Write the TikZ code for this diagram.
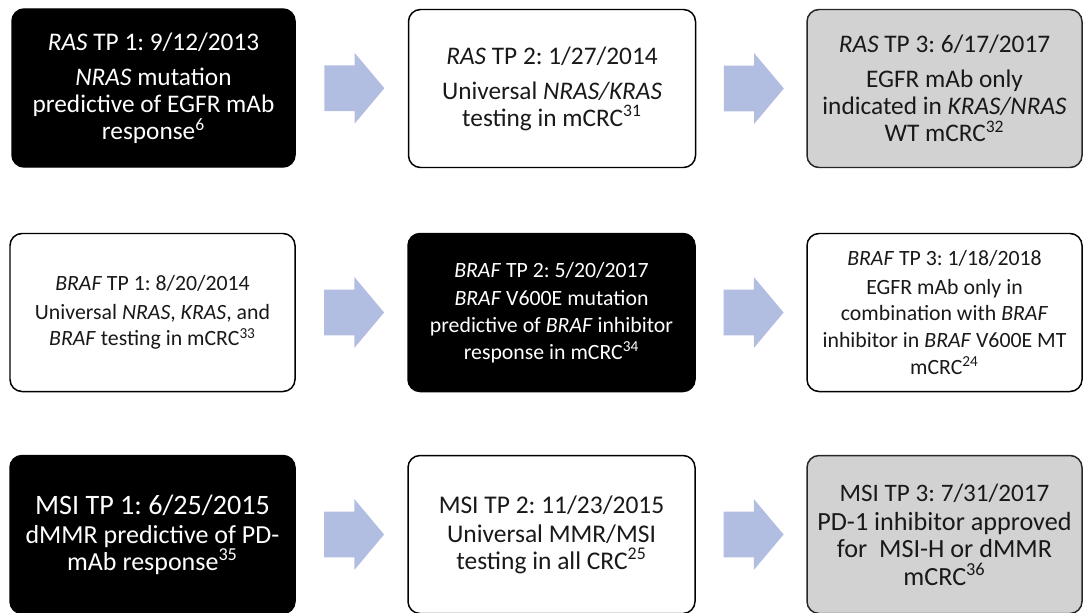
\documentclass[tikz,border=0pt]{standalone}
\usepackage{fontspec}
\setmainfont{Carlito}
\frenchspacing
\usepackage{tikz}
\usetikzlibrary{shapes.arrows}
\usetikzlibrary{calc}
\definecolor{arrowblue}{RGB}{178,189,226}
\definecolor{boxgray}{RGB}{210,210,210}

\begin{document}
\begin{tikzpicture}[
    tpbox/.style={draw=black, line width=0.85pt, rounded corners=0.24cm,
                  minimum height=3.16cm, align=center, inner sep=0pt},
    darkbox/.style={tpbox, fill=black, text=white},
    whitebox/.style={tpbox, fill=white, text=black!90},
    graybox/.style={tpbox, fill=boxgray, draw=black!85, text=black!90},
    rowone/.style={font=\fontsize{14.4}{15.4}\selectfont},
    rowtwo/.style={font=\fontsize{12.4}{15.2}\selectfont},
    fatarrow/.style={single arrow, fill=arrowblue, draw=none, xshift=-0.14cm,
                     inner xsep=0pt, inner ysep=0.45cm, minimum height=1.2cm,
                     single arrow head extend=0.25cm, single arrow tip angle=100}
  ]
    \useasboundingbox (0,0) rectangle (21.66,-12.24);
    \clip (0,0) rectangle (21.66,-12.24);
    % RAS time points
    \node[darkbox, rowone, minimum width=5.66cm] (ras1) at (3.07,-1.76)
      {\textit{RAS} TP 1: 9/12/2013\\[4.5pt] \textit{NRAS} mutation\\ predictive of EGFR mAb\\ response\textsuperscript{6}};
    \node[whitebox, rowone, minimum width=5.74cm] (ras2) at (11.04,-1.77)
      {\textit{RAS} TP 2: 1/27/2014\\[4.5pt] Universal \textit{NRAS/KRAS}\\ testing in mCRC\textsuperscript{31}};
    \node[graybox, rowone, minimum width=5.5cm] (ras3) at (18.89,-1.77)
      {\textit{RAS} TP 3: 6/17/2017\\[4.5pt] EGFR mAb only\\ indicated in \textit{KRAS/NRAS}\\ WT mCRC\textsuperscript{32}};
    % BRAF time points
    \node[whitebox, rowtwo, minimum width=5.7cm] (braf1) at (3.05,-6.25)
      {\textit{BRAF} TP 1: 8/20/2014\\[1pt] Universal \textit{NRAS}, \textit{KRAS}, and\\ \textit{BRAF} testing in mCRC\textsuperscript{33}};
    \node[darkbox, rowtwo, minimum width=5.74cm] (braf2) at (11.03,-6.25)
      {\textit{BRAF} TP 2: 5/20/2017\\[1pt] \textit{BRAF} V600E mutation\\ predictive of \textit{BRAF} inhibitor\\ response in mCRC\textsuperscript{34}};
    \node[whitebox, rowtwo, minimum width=5.5cm] (braf3) at (18.89,-6.25)
      {\textit{BRAF} TP 3: 1/18/2018\\[1pt] EGFR mAb only in\\ combination with \textit{BRAF}\\ inhibitor in \textit{BRAF} V600E MT\\ mCRC\textsuperscript{24}};
    % MSI time points
    \node[darkbox, font=\fontsize{14.8}{15.4}\selectfont, minimum width=5.7cm] (msi1) at (3.05,-10.69)
      {{\fontsize{16}{16}\selectfont MSI TP 1: 6/25/2015}\\[1pt] dMMR predictive of PD-\\ mAb response\textsuperscript{35}};
    \node[whitebox, font=\fontsize{14.5}{15.4}\selectfont, minimum width=5.74cm] (msi2) at (11.03,-10.69)
      {MSI TP 2: 11/23/2015\\[1pt] Universal MMR/MSI\\ testing in all CRC\textsuperscript{25}};
    \node[graybox, font=\fontsize{14.9}{15.6}\selectfont, minimum width=5.5cm] (msi3) at (18.89,-10.69)
      {{\fontsize{14.3}{15}\selectfont MSI TP 3: 7/31/2017}\\[1pt] PD-1 inhibitor approved\\ for~ MSI-H or dMMR\\ mCRC\textsuperscript{36}};
    % Arrows between time points
    \node[fatarrow] (rasarr1) at ($(ras1.east)!0.5!(ras2.west)$) {};
    \node[fatarrow] (rasarr2) at ($(ras2.east)!0.5!(ras3.west)$) {};
    \node[fatarrow] (brafarr1) at ($(braf1.east)!0.5!(braf2.west)$) {};
    \node[fatarrow] (brafarr2) at ($(braf2.east)!0.5!(braf3.west)$) {};
    \node[fatarrow] (msiarr1) at ($(msi1.east)!0.5!(msi2.west)$) {};
    \node[fatarrow] (msiarr2) at ($(msi2.east)!0.5!(msi3.west)$) {};
\end{tikzpicture}
\end{document}
